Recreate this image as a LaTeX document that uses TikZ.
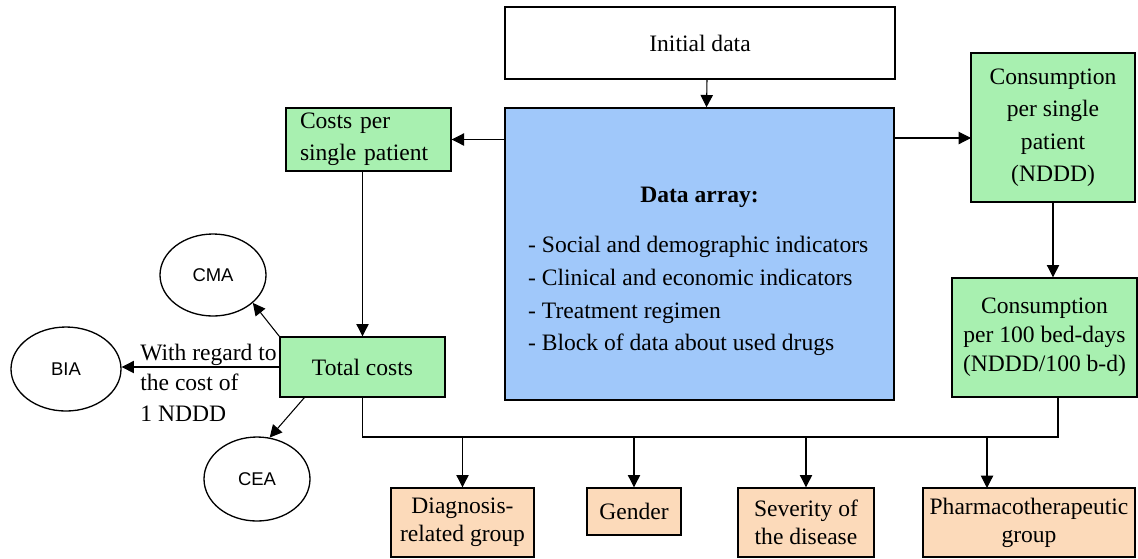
\documentclass[tikz,border=0pt]{standalone}
\usepackage{fontspec}
\setmainfont{Liberation Serif}
\newfontfamily\ovalfont{Liberation Sans}
\usepackage{xcolor}
\usepackage{tikz}
\usetikzlibrary{positioning, shapes, calc, arrows.meta}

\definecolor{boxgreen}{RGB}{168,240,176}
\definecolor{boxblue}{RGB}{160,200,250}
\definecolor{boxpeach}{RGB}{252,218,186}

\begin{document}
\begin{tikzpicture}[font=\fontsize{13.4}{18}\selectfont]

\tikzstyle{blockb}=[rectangle, draw=black, line width=0.8pt, inner sep=0pt, align=center]
\tikzstyle{greenb}=[blockb, fill=boxgreen]
\tikzstyle{peachb}=[blockb, fill=boxpeach]
\tikzstyle{oval}=[ellipse, draw=black, line width=0.75pt, inner sep=0pt, fill=white, font=\ovalfont\fontsize{10.5}{12}\selectfont]
\tikzstyle{arr}=[line width=0.6pt, -{Triangle[length=7pt, width=7pt]}]
\tikzstyle{wire}=[line width=0.6pt]

\useasboundingbox (0,0) rectangle (22.76,-11.16);

\node (init) at (14.0,-0.86) [blockb, minimum width=7.8cm, minimum height=1.44cm] {Initial data};
\node (data) at (13.99,-5.08) [blockb, fill=boxblue, minimum width=7.78cm, minimum height=5.84cm] {};
\node (datatitle) at (13.99,-3.94) {\textbf{Data array:}};
\node (datalist) at (10.44,-5.92) [anchor=west, align=left, font=\fontsize{13.4}{18.7}\selectfont]
  {- Social and demographic indicators\\
   - Clinical and economic indicators\\
   - Treatment regimen\\
   - Block of data about used drugs};

\node (costs) at (7.37,-2.79) [greenb, align=left, text width=2.74cm, inner xsep=0.28cm, minimum width=3.3cm, minimum height=1.26cm] {Costs per\\single patient};
\node (total) at (7.25,-7.34) [greenb, minimum width=3.3cm, minimum height=1.2cm] {Total costs};

\node (cons1) at (21.06,-2.55) [greenb, minimum width=3.28cm, minimum height=2.98cm, font=\fontsize{13.4}{18.5}\selectfont] {Consumption\\per single\\patient\\(NDDD)};
\node (cons100) at (20.89,-6.75) [greenb, minimum width=3.7cm, minimum height=2.38cm, font=\fontsize{13.4}{16.5}\selectfont] {Consumption\\per 100 bed-days\\(NDDD/100 b-d)};

\node (cma) at (4.26,-5.5) [oval, minimum width=2.12cm, minimum height=1.64cm] {CMA};
\node (bia) at (1.32,-7.38) [oval, minimum width=2.2cm, minimum height=1.68cm] {BIA};
\node (cea) at (5.14,-9.58) [oval, minimum width=2.12cm, minimum height=1.68cm] {CEA};

\node (regard) at (2.8,-7.65) [anchor=west, align=left, inner sep=0pt, font=\fontsize{13.4}{17.3}\selectfont] {With regard to\\the cost of\\1 NDDD};

\node (diag) at (9.25,-10.45) [peachb, minimum width=2.86cm, minimum height=1.38cm, font=\fontsize{13.4}{16}\selectfont] {Diagnosis-\\related group};
\node (gender) at (12.68,-10.23) [peachb, minimum width=1.88cm, minimum height=0.94cm] {Gender};
\node (sev) at (16.12,-10.45) [peachb, minimum width=2.72cm, minimum height=1.38cm, font=\fontsize{13.4}{16}\selectfont] {Severity of\\the disease};
\node (pharm) at (20.58,-10.45) [peachb, minimum width=4.24cm, minimum height=1.38cm, font=\fontsize{13.4}{16}\selectfont] {Pharmacotherapeutic\\group};

\coordinate (consin) at (19.42,-2.76);
\coordinate (busr) at (21.16,-8.74);
\coordinate (pharmin) at (19.74,-9.76);

\draw [arr] ([xshift=0.14cm]init.south) -- ([xshift=0.14cm]data.north);
\draw [arr] (data.west |- costs.east) -- (costs.east);
\draw [arr] (data.east |- consin) -- (consin);
\draw [arr] (cons1.south) -- (cons1.south |- cons100.north);
\draw [arr] (costs.south -| total.north) -- (total.north);

\draw [arr] (total.north west) -- (cma.-35);
\draw [arr] (total.west) -- (total.west -| bia.east);
\draw [arr] ([xshift=0.5cm]total.south west) -- (cea.73);

%% bus to the groups
\draw [wire] (total.south) |- (busr) -- (busr |- cons100.south);
\draw [arr] (diag.north |- busr) -- (diag.north);
\draw [arr] (gender.north |- busr) -- (gender.north);
\draw [arr] (sev.north |- busr) -- (sev.north);
\draw [arr] (pharmin |- busr) -- (pharmin);

\end{tikzpicture}
\end{document}
